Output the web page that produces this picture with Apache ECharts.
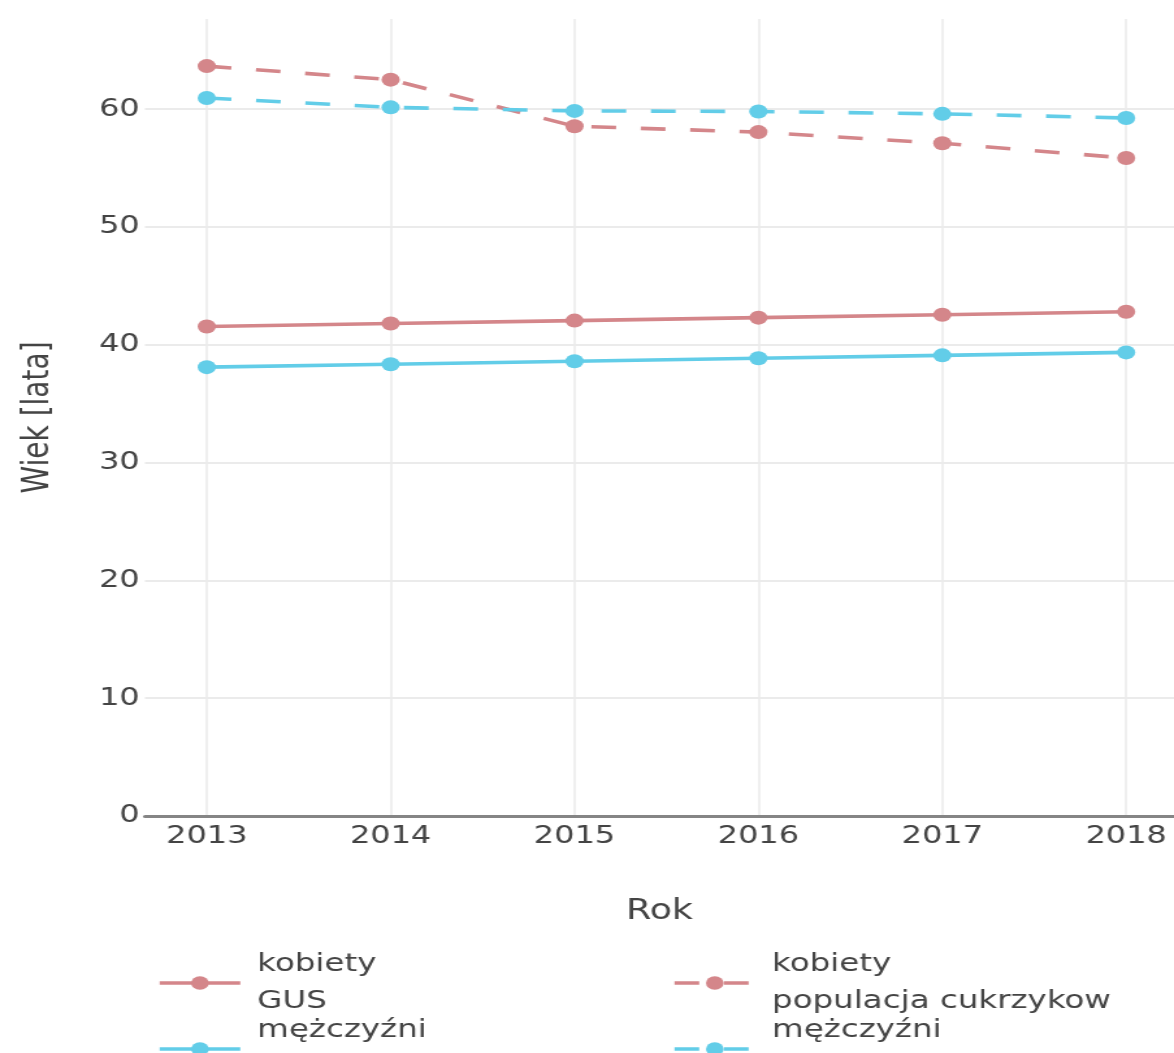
<!DOCTYPE html>
<html>
<head>
<meta charset="utf-8">
<script src="https://cdn.jsdelivr.net/npm/echarts@6/dist/echarts.min.js"></script>
<style>
html,body{margin:0;padding:0;background:#fff;overflow:hidden;}
#chart{width:903px;height:1053px;transform:scaleX(1.3001);transform-origin:0 0;}
</style>
</head>
<body>
<div id="chart"></div>
<script>
const years = [2013, 2014, 2015, 2016, 2017, 2018];
const kobietyGUS = [41.55, 41.8, 42.05, 42.3, 42.55, 42.8];
const mezczyzniGUS = [38.1, 38.35, 38.6, 38.85, 39.1, 39.35];
const kobietyCukrzycy = [63.65, 62.5, 58.55, 58.05, 57.1, 55.85];
const mezczyzniCukrzycy = [60.95, 60.15, 59.85, 59.8, 59.6, 59.25];
const seriesNames = ['kobiety\nGUS', 'kobiety\npopulacja cukrzykow', 'mężczyźni\nGUS', 'mężczyźni\npopulacja cukrzykow'];

const RED = '#d4868a';
const CYAN = '#62cde8';
const TXT = '#444';
const FONT = 'DejaVu Sans';

function pairs(vals) { return years.map((y, i) => [y, vals[i]]); }

function mk(name, vals, color, dashed) {
  return {
    name: name,
    type: 'line',
    data: pairs(vals),
    symbol: 'circle',
    symbolSize: 14,
    showSymbol: true,
    itemStyle: { color: color },
    lineStyle: { color: color, width: 3.6, type: dashed ? [19, 19] : 'solid' },
    emphasis: { disabled: true }
  };
}

const legendBase = {
  itemWidth: 62,
  itemHeight: 17,
  padding: 0,
  selectedMode: false,
  lineStyle: { width: 3.6 },
  textStyle: { fontSize: 25, lineHeight: 37, color: TXT, fontFamily: FONT, padding: [0, 0, 0, 8] }
};

const chart = echarts.init(document.getElementById('chart'), null, { renderer: 'canvas' });
chart.setOption({
  animation: false,
  backgroundColor: '#fff',
  textStyle: { fontFamily: FONT },
  grid: { left: 111.5, right: 0, top: 19, bottom: 237, containLabel: false },
  xAxis: {
    type: 'value',
    min: 2012.664,
    max: 2018.26,
    minInterval: 1,
    maxInterval: 1,
    name: 'Rok',
    nameLocation: 'middle',
    nameGap: 82,
    nameTextStyle: { fontSize: 28, color: TXT, fontFamily: FONT },
    axisLine: { show: true, onZero: false, lineStyle: { color: '#858585', width: 3 } },
    axisTick: { show: false },
    axisLabel: {
      fontSize: 24.6, color: TXT, fontFamily: FONT, margin: 8,
      showMinLabel: false, showMaxLabel: false,
      formatter: v => (Math.abs(v - Math.round(v)) < 1e-6 ? String(Math.round(v)) : '')
    },
    splitLine: { show: true, showMinLine: false, showMaxLine: false, lineStyle: { color: '#ebebeb', width: 1.6 } }
  },
  yAxis: {
    type: 'value',
    min: 0,
    max: 67.65,
    interval: 10,
    name: 'Wiek [lata]',
    nameLocation: 'middle',
    nameGap: 68,
    nameTextStyle: { fontSize: 28, color: TXT, fontFamily: FONT },
    axisLine: { show: false },
    axisTick: { show: false },
    axisLabel: {
      fontSize: 24.6, color: TXT, fontFamily: FONT, margin: 4,
      showMaxLabel: false,
      formatter: v => (v % 10 === 0 ? String(v) : '')
    },
    splitLine: { show: true, showMaxLine: false, lineStyle: { color: '#ebebeb', width: 2 } }
  },
  legend: [
    Object.assign({}, legendBase, { data: [seriesNames[0]], left: 121, top: 946 }),
    Object.assign({}, legendBase, { data: [seriesNames[1]], left: 517, top: 946 }),
    Object.assign({}, legendBase, { data: [seriesNames[2]], left: 121, top: 1012 }),
    Object.assign({}, legendBase, { data: [seriesNames[3]], left: 517, top: 1012 })
  ],
  series: [
    mk(seriesNames[0], kobietyGUS, RED, false),
    mk(seriesNames[1], kobietyCukrzycy, RED, true),
    mk(seriesNames[2], mezczyzniGUS, CYAN, false),
    mk(seriesNames[3], mezczyzniCukrzycy, CYAN, true)
  ]
});
</script>
</body>
</html>
